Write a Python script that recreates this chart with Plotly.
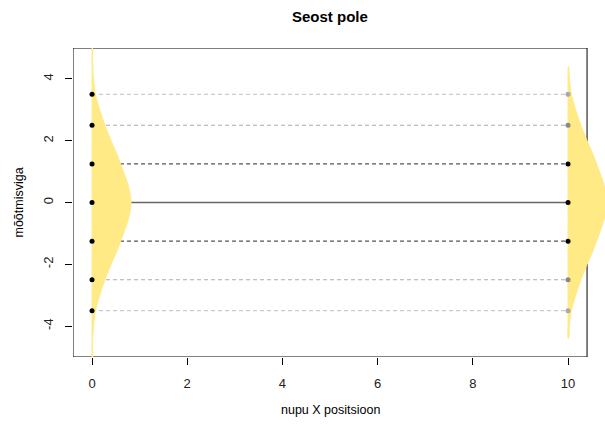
import plotly.graph_objects as go

# Measurement error levels shown at both button positions
x_positions = [0, 10]
error_levels = [3.5, 2.5, 1.25, 0, -1.25, -2.5, -3.5]
line_colors = ["#cccccc", "#aaaaaa", "#555555", "#666666", "#555555", "#aaaaaa", "#cccccc"]
line_dash = ["dash", "dash", "dash", "solid", "dash", "dash", "dash"]
left_point_colors = ["#000000"] * 7
right_point_colors = ["#aaaaaa", "#888888", "#000000", "#000000", "#000000", "#888888", "#aaaaaa"]

# Axis ticks
x_ticks = [0, 2, 4, 6, 8, 10]
y_ticks = [-4, -2, 0, 2, 4]
y_tick_labels = ["-4", "-2", "0", "2", "4"]

# Half-density widths (in x units) of the error distribution
density_y = [5.2, 4.8, 4.4, 4.0, 3.5, 3.0, 2.5, 2.0, 1.5, 1.25, 1.0, 0.5, 0.0,
             -0.5, -1.0, -1.25, -1.5, -2.0, -2.5, -3.0, -3.5, -4.0, -4.4, -4.8, -5.2]
density_w = [0.01, 0.012, 0.015, 0.03, 0.07, 0.16, 0.27, 0.40, 0.54, 0.60, 0.66, 0.77, 0.82,
             0.77, 0.66, 0.60, 0.54, 0.40, 0.27, 0.16, 0.07, 0.03, 0.015, 0.012, 0.01]
right_limit = 4.4

YELLOW = "#ffea85"
FONT = "Liberation Sans, Arial, sans-serif"

fig = go.Figure()

# Horizontal reference lines between the two positions
for lvl, col, dsh in zip(error_levels, line_colors, line_dash):
    fig.add_trace(go.Scatter(
        x=x_positions, y=[lvl, lvl], mode="lines",
        line=dict(color=col, width=1.3 if dsh == "solid" else 1.1, dash="4px,3px" if dsh == "dash" else "solid"),
        hoverinfo="skip", showlegend=False))

# Density shapes, both opening to the right of their position
for x0, lim in [(0, None), (10, right_limit)]:
    ys, ws = [], []
    for yv, wv in zip(density_y, density_w):
        if lim is None or abs(yv) <= lim:
            ys.append(yv)
            ws.append(wv)
    xs = [x0 + w for w in ws] + [x0] * len(ys)
    yy = ys + ys[::-1]
    fig.add_trace(go.Scatter(
        x=xs, y=yy, mode="lines", fill="toself", fillcolor=YELLOW,
        line=dict(color=YELLOW, width=1, shape="spline", smoothing=0.6),
        hoverinfo="skip", showlegend=False))

# Points at each position
for x0, cols in [(0, left_point_colors), (10, right_point_colors)]:
    fig.add_trace(go.Scatter(
        x=[x0] * len(error_levels), y=error_levels, mode="markers",
        marker=dict(color=cols, size=5, line=dict(width=0)),
        cliponaxis=False, hoverinfo="skip", showlegend=False))

fig.update_layout(
    width=605, height=425,
    margin=dict(l=73, r=0, t=48, b=68),
    paper_bgcolor="white", plot_bgcolor="white",
    font=dict(family=FONT, size=12, color="#000000"),
    xaxis=dict(range=[-0.4, 10.777], tickvals=x_ticks,
               showgrid=False, zeroline=False, showline=False,
               ticks="outside", ticklen=7, tickcolor="#000000",
               tickfont=dict(size=13, color="#222222"), ticklabelstandoff=7),
    yaxis=dict(range=[-5, 5], tickvals=y_ticks, ticktext=y_tick_labels, tickangle=-90,
               showgrid=False, zeroline=False, showline=False,
               ticks="outside", ticklen=7, tickcolor="#000000",
               tickfont=dict(size=13, color="#222222"), ticklabelstandoff=7),
    shapes=[dict(type="rect", xref="x", yref="y", x0=-0.4, x1=10.4, y0=-5, y1=5,
                 line=dict(color="#000000", width=1), layer="below")],
    annotations=[
        dict(text="<b>Seost pole</b>", xref="paper", yref="paper", x=0.5 * (10.8 / 11.177), y=1,
             yshift=32, showarrow=False, font=dict(size=15, family=FONT), xanchor="center", yanchor="middle"),
        dict(text="nupu X positsioon", xref="paper", yref="paper", x=0.5 * (10.8 / 11.177), y=0,
             yshift=-53, showarrow=False, font=dict(size=12.5, family=FONT), xanchor="center", yanchor="middle"),
        dict(text="mõõtmisviga", xref="paper", yref="paper", x=0, y=0.5, xshift=-55,
             textangle=-90, showarrow=False, font=dict(size=12.5, family=FONT), xanchor="center", yanchor="middle"),
    ],
)

fig.write_html("out.html")
